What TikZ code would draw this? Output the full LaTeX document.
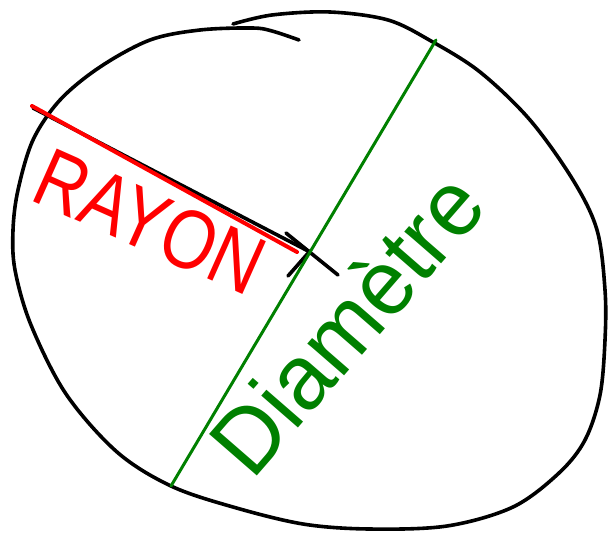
\documentclass[tikz,border=0pt]{standalone}
\usepackage{fontspec}
\setmainfont{Liberation Sans}
\definecolor{penred}{RGB}{255,0,0}
\definecolor{pengreen}{RGB}{0,128,0}
\begin{document}
\begin{tikzpicture}[x=1pt,y=-1pt,
  blackpen/.style={draw=black,line width=3.6pt,line cap=round,line join=round},
  redpen/.style={draw=penred,line width=4pt,line cap=round},
  greenpen/.style={draw=pengreen,line width=3pt,line cap=round},
  redlabel/.style={text=penred,inner sep=0pt,font=\fontsize{84}{84}\selectfont},
  greenlabel/.style={text=pengreen,inner sep=0pt,font=\fontsize{92}{92}\selectfont}]
\useasboundingbox (0,0) rectangle (609,534);
% hand-drawn circle
\draw[blackpen] plot[smooth,tension=0.55] coordinates {
 (233,24) (272,15) (330,12) (388,20) (431,41) (480,72) (530,120)
 (573,180) (597,230) (605,290) (605,340) (600,395) (585,440) (559,473) (513,507)
 (447,526) (369,529) (303,524) (233,507) (171,486) (117,452) (66,394)
 (31,325) (15,270) (13,230) (18,190) (33,140) (60,100) (100,67) (150,40)
 (200,30) (252,28) (272,31) (299,40)};
% radius
\coordinate (rstart) at (33,108);
\coordinate (rend) at (310,252);
\coordinate (redstart) at (32,106);
\coordinate (redend) at (297,252);
\draw[blackpen] (rstart) -- (rend);
\draw[redpen] (redstart) -- (redend);
% centre cross
\coordinate (c1a) at (286,233);
\coordinate (c1b) at (338,275);
\coordinate (c2a) at (288,276);
\coordinate (c2b) at (310,251);
\draw[blackpen] (c1a) -- (c1b);
\draw[blackpen] (c2a) -- (c2b);
% diameter
\coordinate (dtop) at (436,40);
\coordinate (dbot) at (171,486);
\draw[greenpen] (dtop) -- (dbot);
% labels
\node[redlabel,rotate=-24,xscale=0.82] (rayon) at (150,222) {RAYON};
\node[greenlabel,rotate=49,xscale=0.97] (diam) at (346,323) {Diamètre};
\end{tikzpicture}
\end{document}
